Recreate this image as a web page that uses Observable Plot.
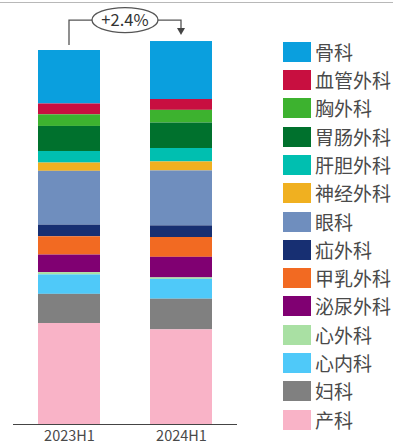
<!DOCTYPE html>
<html>
<head>
<meta charset="utf-8">
<script src="https://cdn.jsdelivr.net/npm/d3@7"></script>
<script src="https://cdn.jsdelivr.net/npm/@observablehq/plot@0.6"></script>
<style>
  html, body { margin: 0; padding: 0; background: #fff; }
  body { width: 393px; height: 446px; position: relative; overflow: hidden;
         font-family: "Noto Sans CJK SC", "Noto Sans", sans-serif; }
  #topline { position: absolute; left: 0; top: 2px; width: 393px; height: 0; border-top: 1px solid #b8b8b8; }
  #chart { position: absolute; left: 0; top: 0; }
  #legend { position: absolute; left: 283px; top: 0; }
  .item { position: absolute; left: 0; display: flex; align-items: center; white-space: nowrap; }
  .sw { width: 28px; height: 20px; margin-right: 4px; }
  .lab { font-size: 19px; color: #4a4a4a; line-height: 20px; }
</style>
</head>
<body>
<div id="topline"></div>
<div id="chart"></div>
<div id="legend"></div>
<script>
// Periods (x axis)
const periods = ["2023H1", "2024H1"];
// Departments, legend order (top of stack first)
const departments = ["骨科", "血管外科", "胸外科", "胃肠外科", "肝胆外科", "神经外科", "眼科", "疝外科", "甲乳外科", "泌尿外科", "心外科", "心内科", "妇科", "产科"];
const colors = ["#0a9fde", "#c80f40", "#3db22f", "#00712d", "#00bfb0", "#f0b020", "#6f8ebe", "#172f72", "#f26a22", "#800072", "#a9e0a3", "#4fc9f9", "#808080", "#f9b3c7"];
// Values (index: 2023H1 total = 100), same order as departments
const values2023 = [14.3, 2.9, 3.1, 6.7, 3.1, 2.2, 14.4, 3.1, 4.9, 4.7, 0.6, 5.2, 7.8, 27.0];
const values2024 = [15.5, 2.9, 3.4, 6.8, 3.6, 2.4, 14.7, 3.1, 5.3, 5.5, 0.4, 5.3, 8.2, 25.3];
const growthLabel = "+2.4%";

const data = [];
periods.forEach((p, pi) => {
  const vals = pi === 0 ? values2023 : values2024;
  departments.forEach((d, i) => data.push({period: p, dept: d, value: vals[i]}));
});
const stackOrder = [...departments].reverse(); // bottom (产科) first

const plot = Plot.plot({
  width: 393,
  height: 446,
  marginTop: 0,
  marginBottom: 22,
  marginLeft: 13,
  marginRight: 156,
  style: {fontFamily: '"Noto Sans CJK SC", "Noto Sans", sans-serif', background: "transparent"},
  x: {domain: periods, paddingInner: 0.45, paddingOuter: 0.22, label: null},
  y: {domain: [0, 113.37], axis: null},
  color: {domain: departments, range: colors},
  marks: [
    Plot.barY(data, {x: "period", y: "value", fill: "dept", order: stackOrder}),
    Plot.ruleY([0], {stroke: "#444", strokeWidth: 1.2}),
    Plot.axisX({tickSize: 0, tickPadding: 6, fontSize: 14.5, fill: "#4a4a4a", label: null})
  ]
});
document.getElementById("chart").appendChild(plot);

// Annotation: connector from 2023H1 top to 2024H1 top with growth bubble
const svg = d3.select(plot);
const xs = plot.scale("x"), ys = plot.scale("y");
const bw = xs.bandwidth;
const cx1 = xs.apply(periods[0]) + bw / 2;
const cx2 = xs.apply(periods[1]) + bw / 2;
const tot1 = d3.sum(values2023), tot2 = d3.sum(values2024);
const top1 = ys.apply(tot1), top2 = ys.apply(tot2);
const yLine = Math.min(top1, top2) - 21;
const g = svg.append("g").attr("stroke", "#555").attr("stroke-width", 1.3).attr("fill", "none");
g.append("path").attr("d", `M${cx1},${top1 - 5}V${yLine}H${cx2}V${top2 - 10}`);
g.append("path").attr("d", `M${cx2 - 4},${top2 - 13}L${cx2 + 4},${top2 - 13}L${cx2},${top2 - 6}Z`).attr("fill", "#444").attr("stroke", "none");
const mx = (cx1 + cx2) / 2;
svg.append("ellipse").attr("cx", mx).attr("cy", yLine).attr("rx", 33).attr("ry", 12.5)
  .attr("fill", "#fff").attr("stroke", "#555").attr("stroke-width", 1.3);
svg.append("text").attr("x", mx).attr("y", yLine).attr("dy", "0.36em").attr("text-anchor", "middle")
  .attr("font-size", 16.5).attr("fill", "#333").text(growthLabel);

// Legend
const legend = document.getElementById("legend");
departments.forEach((d, i) => {
  const it = document.createElement("div");
  it.className = "item";
  it.style.top = (41.7 + i * 28.3) + "px";
  it.innerHTML = `<div class="sw" style="background:${colors[i]}"></div><span class="lab">${d}</span>`;
  legend.appendChild(it);
});
</script>
</body>
</html>
